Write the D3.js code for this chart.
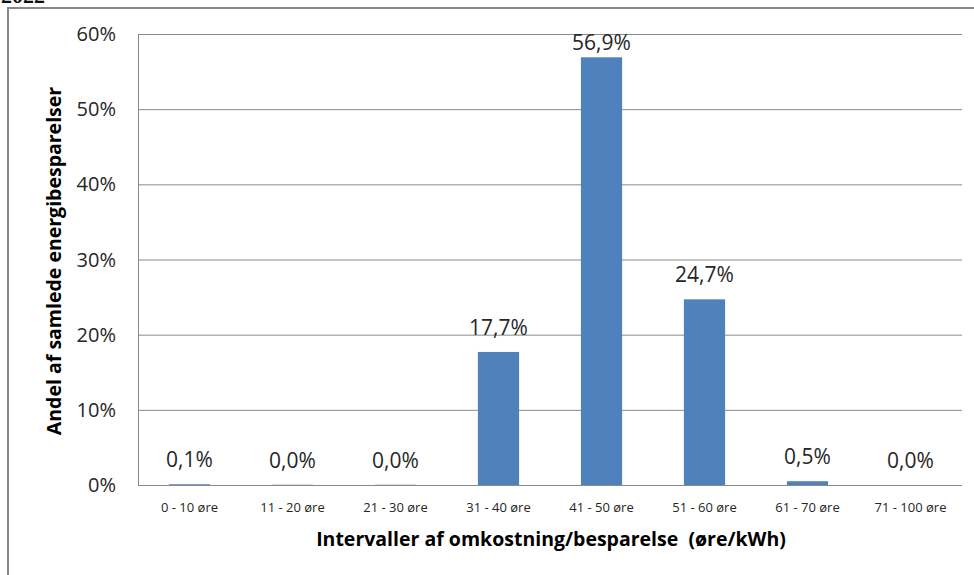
<!DOCTYPE html>
<html>
<head>
<meta charset="utf-8">
<script src="https://cdn.jsdelivr.net/npm/d3@7"></script>
<style>
  body { margin: 0; background: #fff; }
  text { font-family: "Open Sans", sans-serif; fill: #262626; white-space: pre; }
</style>
</head>
<body>
<script>
// data
var categories = ["0 - 10 øre", "11 - 20 øre", "21 - 30 øre", "31 - 40 øre",
                  "41 - 50 øre", "51 - 60 øre", "61 - 70 øre", "71 - 100 øre"];
var values = [0.1, 0.04, 0.04, 17.7, 56.9, 24.7, 0.5, 0.0];   // percent
var yTicks = [0, 10, 20, 30, 40, 50, 60];
var yTitle = "Andel af samlede energibesparelser";
var xTitle = "Intervaller af omkostning/besparelse  (øre/kWh)";

var W = 974, H = 575;
var plot = {left: 138, right: 962, top: 34, bottom: 485};

var svg = d3.select("body").append("svg")
    .attr("width", W)
    .attr("height", H);

// year text cut off at the top
svg.append("text")
    .attr("x", 1).attr("y", 3)
    .style("font-family", "'Liberation Serif', serif")
    .style("font-weight", "bold")
    .style("font-size", "22px")
    .style("fill", "#111")
    .text("2022");

// outer frame
svg.append("path")
    .attr("d", "M8," + H + "V8H" + W)
    .attr("fill", "none")
    .attr("stroke", "#888")
    .attr("stroke-width", 2);

var x = d3.scaleBand()
    .domain(categories)
    .range([plot.left, plot.right])
    .paddingInner(0.6)
    .paddingOuter(0.3);

var y = d3.scaleLinear()
    .domain([0, 60])
    .range([plot.bottom, plot.top]);

var fmt = function(v) { return d3.format(".1f")(v).replace(".", ",") + "%"; };

// gridlines
svg.append("g").selectAll("line")
    .data(yTicks)
  .enter().append("line")
    .attr("x1", plot.left).attr("x2", plot.right)
    .attr("y1", function(d) { return y(d) + 0.5; })
    .attr("y2", function(d) { return y(d) + 0.5; })
    .attr("stroke", "#8a8a8a")
    .attr("stroke-width", 1);

// y axis line
svg.append("line")
    .attr("x1", plot.left + 0.5).attr("x2", plot.left + 0.5)
    .attr("y1", plot.top).attr("y2", plot.bottom)
    .attr("stroke", "#8a8a8a");

// y tick labels
svg.append("g").selectAll("text")
    .data(yTicks)
  .enter().append("text")
    .attr("x", 116)
    .attr("y", function(d) { return y(d); })
    .attr("dy", ".35em")
    .attr("text-anchor", "end")
    .style("font-size", "20px")
    .text(function(d) { return d + "%"; });

// bars
svg.append("g").selectAll("rect")
    .data(values)
  .enter().append("rect")
    .attr("x", function(d, i) { return x(categories[i]); })
    .attr("y", function(d) { return y(d); })
    .attr("width", x.bandwidth())
    .attr("height", function(d) { return y(0) - y(d); })
    .attr("fill", "#4f81bd");

// value labels (kept inside the plot area at the top)
svg.append("g").selectAll("text")
    .data(values)
  .enter().append("text")
    .attr("x", function(d, i) { return x(categories[i]) + x.bandwidth() / 2; })
    .attr("y", function(d) { return Math.max(y(d) - 17, plot.top + 16); })
    .attr("text-anchor", "middle")
    .style("font-size", "21px")
    .text(fmt);

// x tick labels
svg.append("g").selectAll("text")
    .data(categories)
  .enter().append("text")
    .attr("x", function(d) { return x(d) + x.bandwidth() / 2; })
    .attr("y", 512)
    .attr("text-anchor", "middle")
    .style("font-size", "13px")
    .text(function(d) { return d; });

// axis titles
svg.append("text")
    .attr("x", 551)
    .attr("y", 546)
    .attr("text-anchor", "middle")
    .style("font-size", "19.5px")
    .style("font-weight", "bold")
    .style("fill", "#000")
    .text(xTitle);

svg.append("text")
    .attr("transform", "translate(61," + 261 + ") rotate(-90)")
    .attr("text-anchor", "middle")
    .style("font-size", "19.5px")
    .style("font-weight", "bold")
    .style("fill", "#000")
    .text(yTitle);
</script>
</body>
</html>
